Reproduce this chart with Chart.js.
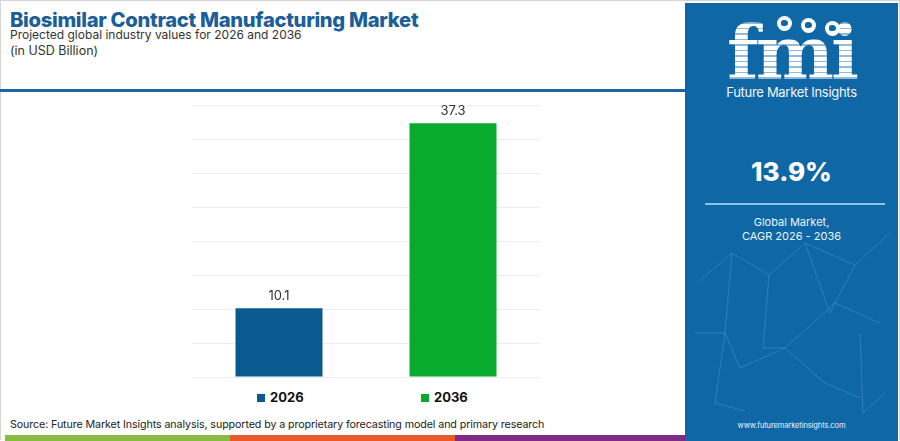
<!DOCTYPE html>
<html>
<head>
<meta charset="utf-8">
<script src="https://cdn.jsdelivr.net/npm/chart.js@4.4.1/dist/chart.umd.min.js"></script>
<style>
  html, body { margin:0; padding:0; background:#fff; }
  #wrap { position:relative; width:900px; height:441px; overflow:hidden; font-family:"Inter","Open Sans",sans-serif; }
  #frame { position:absolute; left:0; top:0; width:898px; height:439px; border:1px solid #d4d4d4; border-bottom:none; }
  #title { position:absolute; left:10px; top:7px; font-size:20.2px; font-weight:800; color:#1b5e98; letter-spacing:-0.3px; white-space:nowrap; }
  #sub1 { position:absolute; left:10px; top:27px; font-size:12px; color:#333; white-space:nowrap; }
  #sub2 { position:absolute; left:10px; top:43px; font-size:12.5px; color:#333; white-space:nowrap; }
  #hline { position:absolute; left:0; top:89px; width:685px; height:3px; background:#1f64a3; }
  #chartBox { position:absolute; left:180px; top:95px; width:372px; height:290px; }
  #legend { position:absolute; top:389px; left:0; width:685px; height:16px; font-size:13px; font-weight:700; color:#111; }
  .li { position:absolute; top:0; height:16px; line-height:16px; white-space:nowrap; }
  .li i { display:inline-block; width:8px; height:8px; margin-right:5px; vertical-align:0px; }
  #source { position:absolute; left:10px; top:418px; font-size:10.7px; letter-spacing:-0.1px; color:#222; white-space:nowrap; }
  .stripe { position:absolute; top:435px; height:6px; }
  #panel { position:absolute; left:685px; top:3px; width:213px; height:438px; background:#0f67a6; color:#fff; text-align:center; }
  #fmi { position:absolute; left:0; width:213px; top:10px; font-family:"DejaVu Serif",serif; font-weight:700; font-size:74px; line-height:80px; letter-spacing:-3px;
         background:repeating-linear-gradient(180deg,#fff 0 4px, rgba(255,255,255,0.55) 4px 5.5px); -webkit-background-clip:text; background-clip:text; color:transparent; }
  .globe { position:absolute; width:15px; height:15px; border-radius:50%; background:#fff; }
  .globe b { position:absolute; left:4px; top:4px; width:7px; height:6px; background:#0f67a6; border-radius:40% 60% 50% 30%; }
  #fmiName { position:absolute; left:0; width:213px; top:81px; font-size:13px; color:#f2f7fb; font-weight:400; letter-spacing:-0.3px; }
  #cagr { position:absolute; left:0; width:213px; top:153px; font-size:26px; font-weight:800; }
  #pline { position:absolute; left:20px; top:200px; width:180px; height:2px; background:#8cc2ea; }
  #gm { position:absolute; left:0; width:213px; top:212px; font-size:11px; line-height:14px; color:#eef4fa; }
  #www { position:absolute; left:0; width:213px; top:418px; font-size:7.5px; letter-spacing:-0.1px; color:#eef4fa; }
  #net { position:absolute; left:0; top:0; }
</style>
</head>
<body>
<div id="wrap">
  <div id="frame"></div>
  <div id="title">Biosimilar Contract Manufacturing Market</div>
  <div id="sub1">Projected global industry values for 2026 and 2036</div>
  <div id="sub2">(in USD Billion)</div>
  <div id="hline"></div>
  <div id="chartBox"><canvas id="c"></canvas></div>
  <div id="legend"></div>
  <div id="source">Source: Future Market Insights analysis, supported by a proprietary forecasting model and primary research</div>
  <div class="stripe" style="left:5px;width:225px;background:#86bc42;"></div>
  <div class="stripe" style="left:230px;width:225px;background:#e85a2a;"></div>
  <div class="stripe" style="left:455px;width:230px;background:#7d2d84;"></div>
  <div id="panel">
    <svg id="net" width="213" height="438">
      <g stroke="rgba(170,210,240,0.22)" stroke-width="1" fill="none">
        <polyline points="12,280 47,250 84,272 120,240 170,262 205,230"/>
        <polyline points="47,250 40,330 55,365 100,345 140,380 175,395"/>
        <polyline points="84,272 78,345 100,345 150,300 195,320"/>
        <polyline points="120,240 145,310 150,300 170,262"/>
        <polyline points="10,330 40,330 30,400 60,408"/>
        <polyline points="175,330 178,410 200,390"/>
      </g>
    </svg>
    <div id="fmi">fmi</div>
    <div class="globe" style="left:92px;top:13px;"><b></b></div>
    <div class="globe" style="left:116px;top:15px;"><b></b></div>
    <div class="globe" style="left:140px;top:18px;"><b></b></div>
    <div id="fmiName">Future Market Insights</div>
    <div id="cagr">13.9%</div>
    <div id="pline"></div>
    <div id="gm">Global Market,<br>CAGR 2026 - 2036</div>
    <div id="www">www.futuremarketinsights.com</div>
  </div>
</div>
<script>
const categories = ['2026', '2036'];
const values = [10.1, 37.3];
const barColors = ['#0b5a8f', '#08ab2e'];
const yTicks = [0, 5, 10, 15, 20, 25, 30, 35, 40];

const valueLabels = {
  id: 'valueLabels',
  afterDatasetsDraw(chart) {
    const ctx = chart.ctx;
    ctx.save();
    ctx.font = '13px Inter, "Open Sans", sans-serif';
    ctx.fillStyle = '#333';
    ctx.textAlign = 'center';
    ctx.textBaseline = 'bottom';
    chart.getDatasetMeta(0).data.forEach((bar, i) => {
      ctx.fillText(values[i].toFixed(1), bar.x, bar.y - 6);
    });
    ctx.restore();
  }
};

const chart = new Chart(document.getElementById('c'), {
  type: 'bar',
  data: {
    labels: categories,
    datasets: [{ data: values, backgroundColor: barColors, borderWidth: 0, barPercentage: 0.5, categoryPercentage: 1.0 }]
  },
  options: {
    responsive: true,
    maintainAspectRatio: false,
    animation: false,
    layout: { padding: { left: 12, right: 12, top: 10, bottom: 8 } },
    plugins: { legend: { display: false }, tooltip: { enabled: false } },
    scales: {
      x: { display: false, grid: { display: false } },
      y: {
        min: 0, max: 40,
        afterBuildTicks(scale) { scale.ticks = yTicks.map(v => ({ value: v })); },
        ticks: { display: false },
        border: { display: false },
        grid: { color: '#ededed', lineWidth: 1, drawTicks: false }
      }
    }
  },
  plugins: [valueLabels]
});

const lg = document.getElementById('legend');
const legendX = [257, 421];
categories.forEach((c, i) => {
  const d = document.createElement('div');
  d.className = 'li';
  d.style.left = legendX[i] + 'px';
  d.innerHTML = '<i style="background:' + barColors[i] + '"></i>' + c;
  lg.appendChild(d);
});
</script>
</body>
</html>
